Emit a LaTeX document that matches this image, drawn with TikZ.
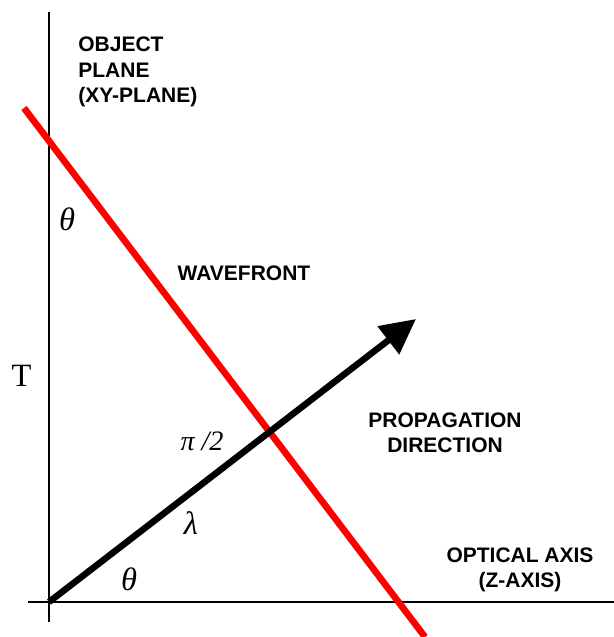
\documentclass[tikz,border=0pt]{standalone}
\usepackage{fontspec}
\newfontfamily\labelfont{Liberation Sans}
\newfontfamily\greekfont{Liberation Serif}
\usepackage{tikz}
\usetikzlibrary{arrows.meta,positioning}

\begin{document}
\begin{tikzpicture}[
  axis/.style={line width=0.6pt, black},
  wave/.style={line width=3.8pt, red},
  prop/.style={line width=3.7pt, black, -{Triangle[length=0.7cm,width=0.68cm]}},
  lbl/.style={inner sep=0pt, font=\labelfont\bfseries\fontsize{11.95}{14.5}\selectfont},
  sym/.style={inner sep=0pt, font=\greekfont\fontsize{18.5}{22}\selectfont},
]
\useasboundingbox (-0.98,-0.7) rectangle (11.3,12.04);
% axes
\coordinate (o) at (0,0);
\coordinate (ytop) at (0,11.8);
\coordinate (ybot) at (0,-0.4);
\coordinate (zleft) at (-0.42,0);
\coordinate (zright) at (11.3,0);
\draw[axis] (ybot) -- (ytop);
\draw[axis] (zleft) -- (zright);
% wavefront and propagation direction
\coordinate (wtop) at (-0.5,9.88);
\coordinate (wbot) at (7.52,-0.7);
\coordinate (tip) at (7.34,5.66);
\draw[wave] (wtop) -- (wbot);
\draw[prop] (o) -- (tip);
% labels
\node[lbl, align=left, anchor=west] (objplane) at (0.58,10.6) {OBJECT\\PLANE\\(XY-PLANE)};
\node[lbl] (wavefront) at (3.9,6.58) {WAVEFRONT};
\node[lbl, align=center] (propdir) at (7.92,3.38) {PROPAGATION\\DIRECTION};
\node[lbl, align=center] (optaxis) at (9.42,0.64) {OPTICAL AXIS\\(Z-AXIS)};
\node[sym] (thetatop) at (0.36,7.66) {\itshape θ};
\node[sym] (tlabel) at (-0.55,4.52) {T};
\node[sym, font=\greekfont\fontsize{16}{19}\selectfont] (halfpi) at (3.06,3.22) {\itshape π /2};
\node[sym] (lambda) at (2.84,1.58) {\itshape λ};
\node[sym] (thetabot) at (1.6,0.46) {\itshape θ};
\end{tikzpicture}
\end{document}
